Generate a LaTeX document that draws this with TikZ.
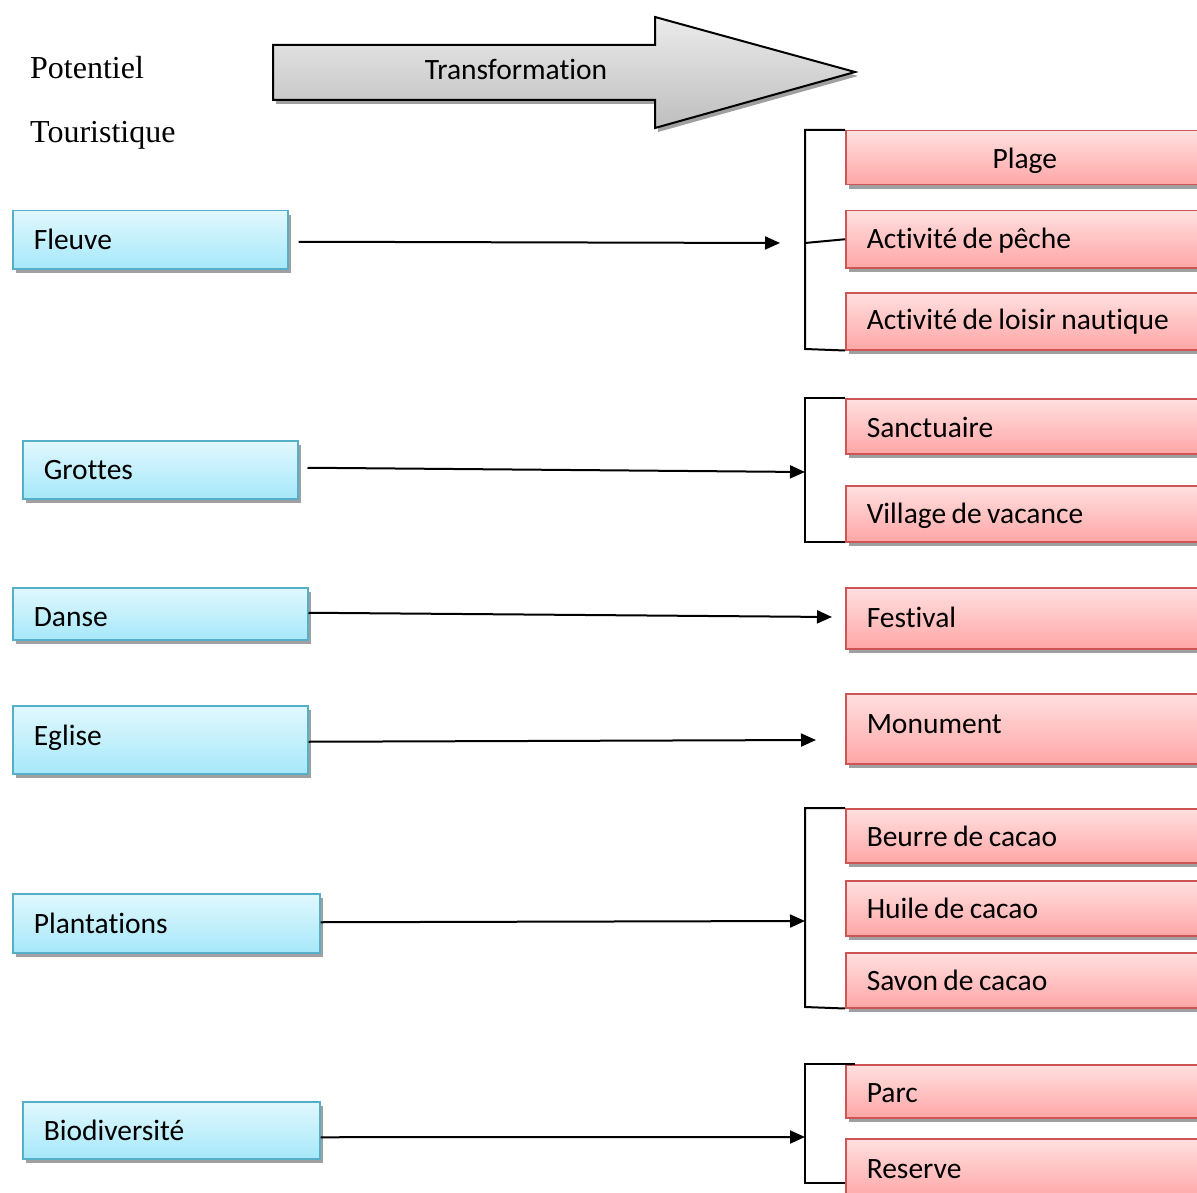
\documentclass[tikz,border=0pt]{standalone}
\usepackage{fontspec}
\setmainfont{Carlito}[Ligatures=NoCommon]
\newfontfamily\serifT{Liberation Serif}
\usetikzlibrary{arrows.meta,shadows,calc}
\definecolor{bluedraw}{RGB}{85,175,200}
\definecolor{bluetop}{RGB}{225,248,253}
\definecolor{bluebot}{RGB}{166,232,250}
\definecolor{reddraw}{RGB}{205,85,85}
\definecolor{redtop}{RGB}{255,224,224}
\definecolor{redbot}{RGB}{255,166,166}
\definecolor{graytop}{RGB}{235,235,235}
\definecolor{graybot}{RGB}{190,190,190}
\definecolor{shadowc}{RGB}{160,160,160}
\newcommand{\shiftT}[2]{\raisebox{#1}[\height][\depth]{#2}}
\newcommand{\boxfont}{\fontsize{29.5}{34}\selectfont}
\tikzset{
  boxshadow/.style={drop shadow={shadow xshift=3pt,shadow yshift=-4pt,fill=shadowc,opacity=1}},
  tightspace/.style={execute at begin node={\spaceskip=5.4pt plus 1pt minus 0.5pt\relax}},
  bluebox/.style={draw=bluedraw,line width=1.5pt,top color=bluetop,bottom color=bluebot,
    rectangle,anchor=north west,inner xsep=21pt,inner ysep=0pt,align=left,
    font=\boxfont,boxshadow,tightspace},
  redbox/.style={draw=reddraw,line width=1.5pt,top color=redtop,bottom color=redbot,
    rectangle,anchor=north west,inner xsep=21pt,inner ysep=0pt,align=left,
    minimum width=370pt,text width=328pt,
    font=\boxfont,boxshadow,tightspace},
  conn/.style={line width=2pt,-{Triangle[length=15pt,width=13pt]}},
  brk/.style={line width=2pt},
  title/.style={anchor=base west,font=\serifT\fontsize{32}{36}\selectfont,inner sep=0pt}
}
\begin{document}
\begin{tikzpicture}[x=1pt,y=-1pt]
\useasboundingbox (0,0) rectangle (1197,1193);
\clip (0,0) rectangle (1197,1193);
\fill[white] (0,0) rectangle (1197,1193);
% titles
\node[title] (pot) at (30,79) {Potentiel};
\node[title] (tour) at (30,143) {Touristique};
% big arrow
\fill[shadowc] ($(273,45)+(3,4)$) -- ++(382,0) -- ++(0,-28) -- ($(855,72)+(3,4)$) -- ($(655,128)+(3,4)$) -- ++(0,-28) -- ($(273,100)+(3,4)$) -- cycle;
\draw[line width=2pt,top color=graytop,bottom color=graybot,line join=miter]
  (273,45) -- (655,45) -- (655,17) -- (855,72) -- (655,128) -- (655,100) -- (273,100) -- cycle;
\node[font=\boxfont] (trans) at (516,69) {Transformation};
% left boxes
\node[bluebox,minimum width=275pt,text width=233pt,minimum height=58pt] (fleuve) at (12,210) {Fleuve};
\node[bluebox,minimum width=275pt,text width=233pt,minimum height=58pt] (grottes) at (22,440) {Grottes};
\node[bluebox,minimum width=295pt,text width=253pt,minimum height=52pt] (danse) at (12,587) {\shiftT{-3pt}{Danse}};
\node[bluebox,minimum width=295pt,text width=253pt,minimum height=68pt] (eglise) at (12,705) {\shiftT{2pt}{Eglise}};
\node[bluebox,minimum width=307pt,text width=265pt,minimum height=59pt] (plant) at (12,893) {Plantations};
\node[bluebox,minimum width=297pt,text width=255pt,minimum height=57pt] (bio) at (22,1101) {Biodiversité};
% right boxes
\node[redbox,minimum height=54pt,align=center,text width=328pt] (plage) at (845,130) {\shiftT{-3pt}{\hspace*{-6pt}Plage\hspace*{6pt}}};
\node[redbox,minimum height=57pt] (peche) at (845,210) {\shiftT{-1pt}{Activité de pêche}};
\node[redbox,minimum height=57pt] (nautique) at (845,292) {Activité de loisir nautique};
\node[redbox,minimum height=55pt] (sanct) at (845,398) {\shiftT{-1pt}{Sanctuaire}};
\node[redbox,minimum height=56pt] (village) at (845,485) {\shiftT{-2pt}{Village de vacance}};
\node[redbox,minimum height=61pt] (festival) at (845,587) {\shiftT{1pt}{Festival}};
\node[redbox,minimum height=70pt] (monument) at (845,693) {\shiftT{5pt}{Monument}};
\node[redbox,minimum height=54pt] (beurre) at (845,808) {\shiftT{-1pt}{Beurre de cacao}};
\node[redbox,minimum height=55pt] (huile) at (845,880) {Huile de cacao};
\node[redbox,minimum height=55pt] (savon) at (845,952) {Savon de cacao};
\node[redbox,minimum height=53pt] (parc) at (845,1064) {\shiftT{-2pt}{Parc}};
\node[redbox,minimum height=60pt] (reserve) at (845,1138) {Reserve};
% brackets
\coordinate (b1) at (805,243);
\coordinate (b2) at (805,472);
\coordinate (b3) at (805,921);
\coordinate (b4) at (805,1137);
\draw[brk] (plage.north west) -- (805,130) -- (805,349) -- (nautique.south west);
\draw[brk] (b1) -- (peche.west);
\draw[brk] (sanct.north west) -- (805,398) -- (805,542) -- (845,542);
\draw[brk] (beurre.north west) -- (805,808) -- (805,1007) -- (savon.south west);
\draw[brk] (855,1064) -- (805,1064) -- (805,1183) -- (845,1183);
% connectors
\coordinate (e1) at (780,243);
\coordinate (e3) at (832,617);
\coordinate (e4) at (816,740);
\draw[conn] ($(fleuve.east)+(10,2)$) -- (e1);
\draw[conn] ($(grottes.east)+(9,-2)$) -- (b2);
\draw[conn] ($(danse.east)+(0,-1)$) -- (e3);
\draw[conn] ($(eglise.east)+(0,2)$) -- (e4);
\draw[conn] ($(plant.east)+(0,-1)$) -- (b3);
\draw[conn] ($(bio.east)+(0,7)$) -- (b4);
\end{tikzpicture}
\end{document}
